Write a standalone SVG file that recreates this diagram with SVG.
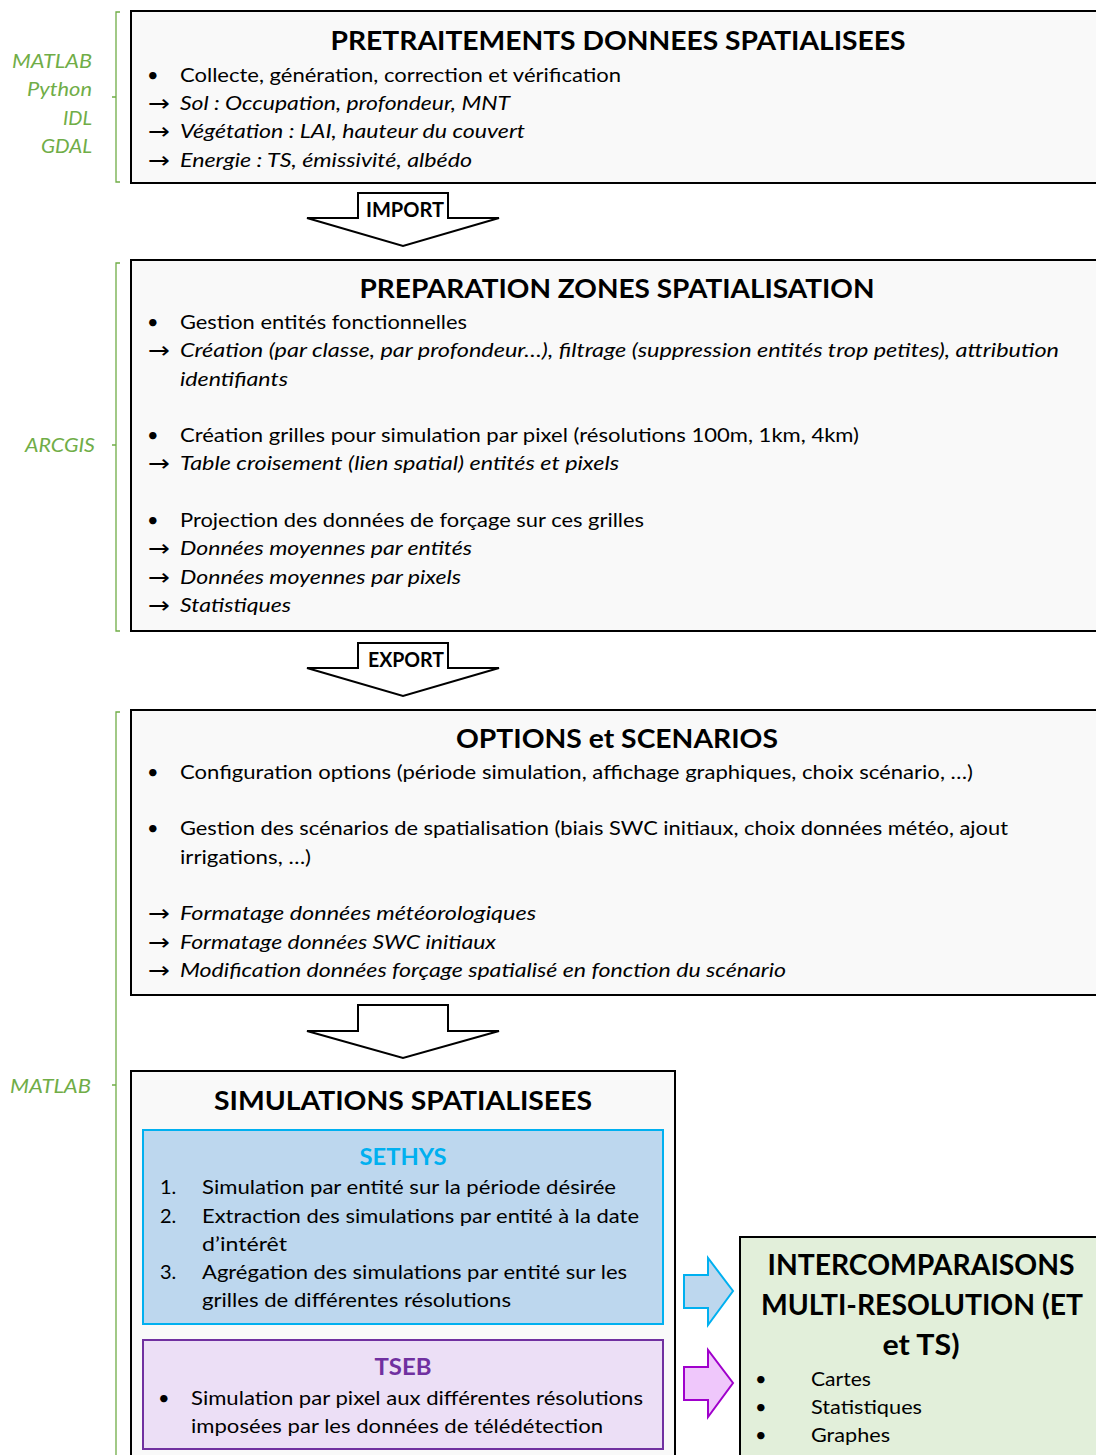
<svg xmlns="http://www.w3.org/2000/svg" width="1096" height="1455" viewBox="0 0 1096 1455">
<style>
text{font-family:Lato,"Liberation Sans",sans-serif;fill:#000}
.t{font-size:20px}
.i{font-size:20px;font-style:italic}
.h{font-size:26px;font-weight:bold;text-anchor:middle}
.hg{font-size:28px;font-weight:bold;text-anchor:middle}
.ar{font-family:"DejaVu Sans",sans-serif;font-size:23px}
.lbl{font-size:20px;font-style:italic;fill:#70ad47;text-anchor:end}
.box{fill:#f9f9f9;stroke:#000;stroke-width:2}
.brk{fill:none;stroke:#70ad47;stroke-width:1.3}
.blk{fill:#fff;stroke:#000;stroke-width:2;stroke-linejoin:miter}
.btxt{font-size:20px;font-weight:bold;text-anchor:middle}
</style>

<g id="labels">
<path class="brk" d="M120,12 H116 V182 H120 M116,97 H112"/>
<text class="lbl" x="92" y="68" textLength="80" lengthAdjust="spacingAndGlyphs">MATLAB</text>
<text class="lbl" x="92" y="96" textLength="65" lengthAdjust="spacingAndGlyphs">Python</text>
<text class="lbl" x="92" y="125" textLength="29" lengthAdjust="spacingAndGlyphs">IDL</text>
<text class="lbl" x="92" y="153" textLength="51" lengthAdjust="spacingAndGlyphs">GDAL</text>
<path class="brk" d="M120,263 H116 V631 H120 M116,445 H112"/>
<text class="lbl" x="95" y="452" textLength="70" lengthAdjust="spacingAndGlyphs">ARCGIS</text>
<path class="brk" d="M120,712 H116 V1455 M116,1085 H112"/>
<text class="lbl" x="91" y="1093" textLength="81" lengthAdjust="spacingAndGlyphs">MATLAB</text>
</g>

<g id="node-pretraitements">
<rect class="box" x="131" y="11" width="980" height="172"/>
<text class="h" x="618" y="50" textLength="575" lengthAdjust="spacingAndGlyphs">PRETRAITEMENTS DONNEES SPATIALISEES</text>
<text class="t" x="147" y="82">•</text>
<text class="t" x="180" y="82" textLength="441" lengthAdjust="spacingAndGlyphs">Collecte, génération, correction et vérification</text>
<text class="ar" x="148" y="111" textLength="22" lengthAdjust="spacingAndGlyphs">→</text>
<text class="i" x="180" y="110" textLength="330" lengthAdjust="spacingAndGlyphs">Sol : Occupation, profondeur, MNT</text>
<text class="ar" x="148" y="139" textLength="22" lengthAdjust="spacingAndGlyphs">→</text>
<text class="i" x="180" y="138" textLength="345" lengthAdjust="spacingAndGlyphs">Végétation : LAI, hauteur du couvert</text>
<text class="ar" x="148" y="167.5" textLength="22" lengthAdjust="spacingAndGlyphs">→</text>
<text class="i" x="180" y="166.5" textLength="292" lengthAdjust="spacingAndGlyphs">Energie : TS, émissivité, albédo</text>
</g>

<g id="node-preparation">
<rect class="box" x="131" y="260" width="980" height="371"/>
<text class="h" x="617" y="298" textLength="515" lengthAdjust="spacingAndGlyphs">PREPARATION ZONES SPATIALISATION</text>
<text class="t" x="147" y="329">•</text>
<text class="t" x="180" y="329" textLength="287" lengthAdjust="spacingAndGlyphs">Gestion entités fonctionnelles</text>
<text class="ar" x="148" y="358" textLength="22" lengthAdjust="spacingAndGlyphs">→</text>
<text class="i" x="180" y="357" textLength="879" lengthAdjust="spacingAndGlyphs">Création (par classe, par profondeur…), filtrage (suppression entités trop petites), attribution</text>
<text class="i" x="180" y="386" textLength="108" lengthAdjust="spacingAndGlyphs">identifiants</text>
<text class="t" x="147" y="442">•</text>
<text class="t" x="180" y="442" textLength="679" lengthAdjust="spacingAndGlyphs">Création grilles pour simulation par pixel (résolutions 100m, 1km, 4km)</text>
<text class="ar" x="148" y="471" textLength="22" lengthAdjust="spacingAndGlyphs">→</text>
<text class="i" x="180" y="470" textLength="439" lengthAdjust="spacingAndGlyphs">Table croisement (lien spatial) entités et pixels</text>
<text class="t" x="147" y="527">•</text>
<text class="t" x="180" y="527" textLength="464" lengthAdjust="spacingAndGlyphs">Projection des données de forçage sur ces grilles</text>
<text class="ar" x="148" y="556" textLength="22" lengthAdjust="spacingAndGlyphs">→</text>
<text class="i" x="180" y="555" textLength="292" lengthAdjust="spacingAndGlyphs">Données moyennes par entités</text>
<text class="ar" x="148" y="585" textLength="22" lengthAdjust="spacingAndGlyphs">→</text>
<text class="i" x="180" y="584" textLength="281" lengthAdjust="spacingAndGlyphs">Données moyennes par pixels</text>
<text class="ar" x="148" y="613" textLength="22" lengthAdjust="spacingAndGlyphs">→</text>
<text class="i" x="180" y="612" textLength="111" lengthAdjust="spacingAndGlyphs">Statistiques</text>
</g>

<g id="node-options">
<rect class="box" x="131" y="710" width="980" height="285"/>
<text class="h" x="617" y="748" textLength="322" lengthAdjust="spacingAndGlyphs">OPTIONS et SCENARIOS</text>
<text class="t" x="147" y="779">•</text>
<text class="t" x="180" y="779" textLength="793" lengthAdjust="spacingAndGlyphs">Configuration options (période simulation, affichage graphiques, choix scénario, …)</text>
<text class="t" x="147" y="835">•</text>
<text class="t" x="180" y="835" textLength="828" lengthAdjust="spacingAndGlyphs">Gestion des scénarios de spatialisation (biais SWC initiaux, choix données météo, ajout</text>
<text class="t" x="180" y="864" textLength="131" lengthAdjust="spacingAndGlyphs">irrigations, …)</text>
<text class="ar" x="148" y="921" textLength="22" lengthAdjust="spacingAndGlyphs">→</text>
<text class="i" x="180" y="920" textLength="356" lengthAdjust="spacingAndGlyphs">Formatage données météorologiques</text>
<text class="ar" x="148" y="950" textLength="22" lengthAdjust="spacingAndGlyphs">→</text>
<text class="i" x="180" y="949" textLength="316" lengthAdjust="spacingAndGlyphs">Formatage données SWC initiaux</text>
<text class="ar" x="148" y="978" textLength="22" lengthAdjust="spacingAndGlyphs">→</text>
<text class="i" x="180" y="977" textLength="606" lengthAdjust="spacingAndGlyphs">Modification données forçage spatialisé en fonction du scénario</text>
</g>

<g id="node-simulations">
<rect class="box" x="131" y="1071" width="544" height="400"/>
<text class="h" x="403" y="1110" textLength="378" lengthAdjust="spacingAndGlyphs">SIMULATIONS SPATIALISEES</text>
<g id="node-sethys">
<rect x="143" y="1130" width="520" height="194" fill="#bdd7ee" stroke="#00b0f0" stroke-width="2"/>
<text x="403" y="1165" style="font-size:23px;font-weight:bold;fill:#00b0f0;text-anchor:middle" textLength="87" lengthAdjust="spacingAndGlyphs">SETHYS</text>
<text class="t" x="160" y="1194">1.</text>
<text class="t" x="202" y="1194" textLength="414" lengthAdjust="spacingAndGlyphs">Simulation par entité sur la période désirée</text>
<text class="t" x="160" y="1222.5">2.</text>
<text class="t" x="202" y="1222.5" textLength="437" lengthAdjust="spacingAndGlyphs">Extraction des simulations par entité à la date</text>
<text class="t" x="202" y="1250.5" textLength="85" lengthAdjust="spacingAndGlyphs">d’intérêt</text>
<text class="t" x="160" y="1279">3.</text>
<text class="t" x="202" y="1279" textLength="425" lengthAdjust="spacingAndGlyphs">Agrégation des simulations par entité sur les</text>
<text class="t" x="202" y="1307" textLength="309" lengthAdjust="spacingAndGlyphs">grilles de différentes résolutions</text>
</g>
<g id="node-tseb">
<rect x="143" y="1340" width="520" height="109" fill="#ecdff6" stroke="#7030a0" stroke-width="2"/>
<text x="403" y="1375" style="font-size:23px;font-weight:bold;fill:#7030a0;text-anchor:middle" textLength="57" lengthAdjust="spacingAndGlyphs">TSEB</text>
<text class="t" x="158" y="1405">•</text>
<text class="t" x="191" y="1405" textLength="452" lengthAdjust="spacingAndGlyphs">Simulation par pixel aux différentes résolutions</text>
<text class="t" x="191" y="1433" textLength="412" lengthAdjust="spacingAndGlyphs">imposées par les données de télédétection</text>
</g>
</g>

<g id="node-intercomparaisons">
<rect x="740" y="1237" width="380" height="240" fill="#e2efda" stroke="#000" stroke-width="2"/>
<text class="hg" x="921" y="1275" textLength="307" lengthAdjust="spacingAndGlyphs">INTERCOMPARAISONS</text>
<text class="hg" x="922" y="1315" textLength="322" lengthAdjust="spacingAndGlyphs">MULTI-RESOLUTION (ET</text>
<text class="hg" x="921" y="1355" textLength="77" lengthAdjust="spacingAndGlyphs">et TS)</text>
<text class="t" x="755" y="1386">•</text>
<text class="t" x="811" y="1386" textLength="60" lengthAdjust="spacingAndGlyphs">Cartes</text>
<text class="t" x="755" y="1414">•</text>
<text class="t" x="811" y="1414" textLength="111" lengthAdjust="spacingAndGlyphs">Statistiques</text>
<text class="t" x="755" y="1442">•</text>
<text class="t" x="811" y="1442" textLength="79" lengthAdjust="spacingAndGlyphs">Graphes</text>
</g>

<g id="connectors">
<path class="blk" d="M358,193 H448 V218 H499 L403,246 L307,218 H358 Z"/>
<text class="btxt" x="405" y="217" textLength="78" lengthAdjust="spacingAndGlyphs">IMPORT</text>
<path class="blk" d="M358,643 H448 V668 H499 L403,696 L307,668 H358 Z"/>
<text class="btxt" x="406" y="667" textLength="76" lengthAdjust="spacingAndGlyphs">EXPORT</text>
<path class="blk" d="M358,1005 H448 V1031 H499 L403,1058 L307,1031 H358 Z"/>
<path d="M684,1275 H708 V1258 L733,1291 L708,1325 V1308 H684 Z" fill="#bdd7ee" stroke="#00b0f0" stroke-width="2"/>
<path d="M684,1367 H708 V1350 L733,1383 L708,1417 V1400 H684 Z" fill="#efc7fb" stroke="#a000cc" stroke-width="2"/>
</g>
</svg>
